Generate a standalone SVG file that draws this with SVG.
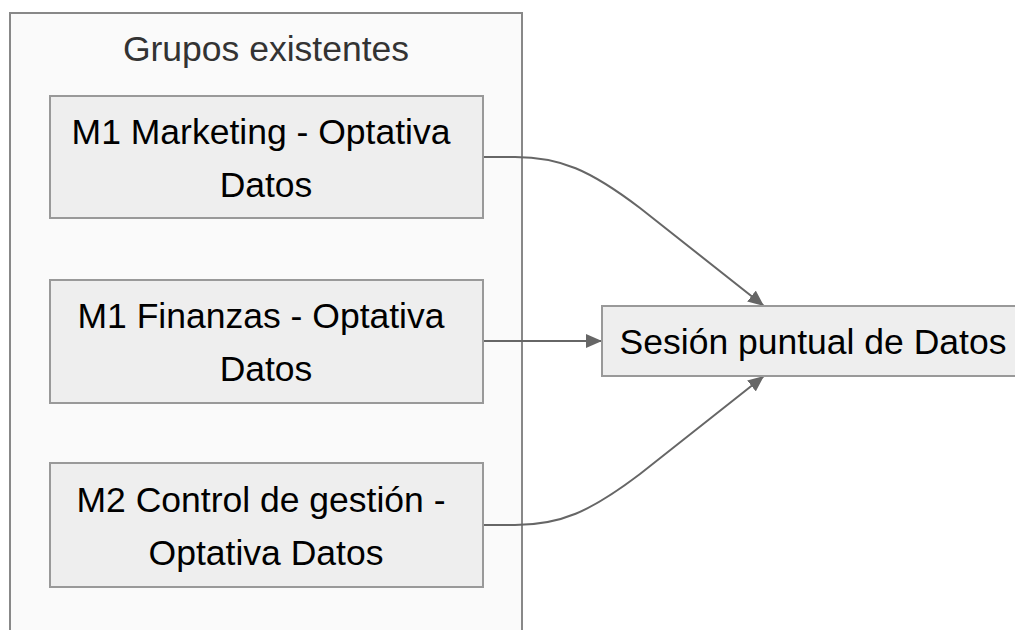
<svg xmlns="http://www.w3.org/2000/svg" width="1015" height="630" viewBox="0 0 1015 630">
<defs>
<style>
.cluster{fill:#fafafa;stroke:#888;stroke-width:2}
.node rect{fill:#eeeeee;stroke:#999;stroke-width:2}
.node text{font-family:"Liberation Sans",Arial,sans-serif;font-size:35.5px;fill:#000;text-anchor:middle}
.title{font-family:"Liberation Sans",Arial,sans-serif;font-size:35.5px;fill:#333;text-anchor:middle}
.edge{fill:none;stroke:#666;stroke-width:2}
</style>
<marker id="arrow" viewBox="0 0 10 10" refX="10" refY="5" markerWidth="16" markerHeight="14" markerUnits="userSpaceOnUse" preserveAspectRatio="none" orient="auto">
<path d="M0,0 L10,5 L0,10 z" fill="#666"/>
</marker>
</defs>
<rect width="1015" height="630" fill="#fff"/>
<g id="grupos-existentes">
<rect class="cluster" x="10" y="13" width="512" height="640"/>
<text class="title" x="266" y="61">Grupos existentes</text>
</g>
<g id="connectors">
<path class="edge" d="M483,157 L515,157 C560,157 590,170 640,208 L764,306" marker-end="url(#arrow)"/>
<path class="edge" d="M483,341 L602,341" marker-end="url(#arrow)"/>
<path class="edge" d="M483,525 L515,525 C560,525 590,512 640,474 L764,376" marker-end="url(#arrow)"/>
</g>
<g id="m1-marketing" class="node">
<rect x="50" y="96" width="433" height="122"/>
<text x="261" y="143.5">M1 Marketing - Optativa</text>
<text x="266" y="196.5">Datos</text>
</g>
<g id="m1-finanzas" class="node">
<rect x="50" y="280" width="433" height="123"/>
<text x="261" y="327.5">M1 Finanzas - Optativa</text>
<text x="266" y="380.5">Datos</text>
</g>
<g id="m2-control" class="node">
<rect x="50" y="463" width="433" height="124"/>
<text x="261" y="511.5">M2 Control de gestión -</text>
<text x="266" y="564.5">Optativa Datos</text>
</g>
<g id="sesion-puntual" class="node">
<rect x="602" y="306" width="422" height="70"/>
<text x="813" y="353.5">Sesión puntual de Datos</text>
</g>
</svg>
